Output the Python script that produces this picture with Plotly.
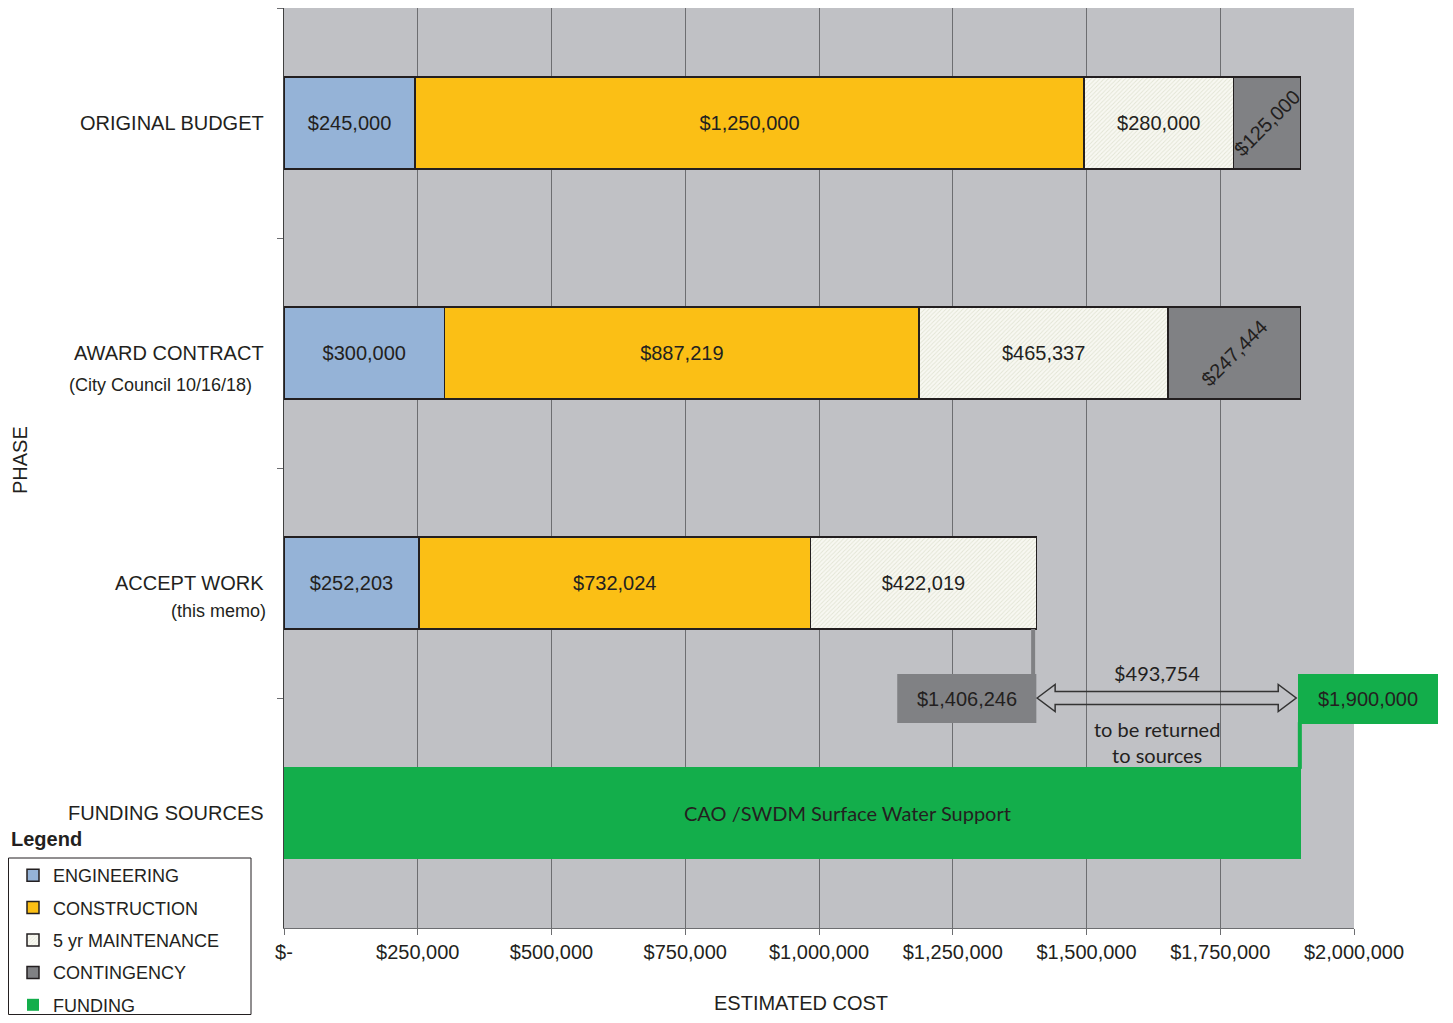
import plotly.graph_objects as go

# ---------------- data ----------------
phases = ["ORIGINAL BUDGET", "AWARD CONTRACT", "ACCEPT WORK", "FUNDING SOURCES"]
phase_notes = ["", "(City Council 10/16/18)", "(this memo)", ""]
engineering = [245000, 300000, 252203, None]
construction = [1250000, 887219, 732024, None]
maintenance = [280000, 465337, 422019, None]
contingency = [125000, 247444, 0, None]
funding = [None, None, None, 1900000]
funding_label = "CAO /SWDM Surface Water Support"
x_ticks = [0, 250000, 500000, 750000, 1000000, 1250000, 1500000, 1750000, 2000000]
x_tick_labels = ["$-", "$250,000", "$500,000", "$750,000", "$1,000,000",
                 "$1,250,000", "$1,500,000", "$1,750,000", "$2,000,000"]

# ---------------- style ----------------
ARIAL = "Liberation Sans, Arial, sans-serif"
CALIBRI = "Lato, Open Sans, sans-serif"
DARK = "#231F20"
C_ENG = "#95B3D7"
C_CON = "#FBBF15"
C_CONT = "#808184"
C_FUND = "#13AE4B"
BG = "#C0C1C5"
GRID = "#6D6E71"

XMAX = 2000000
OFF = 8                      # page body margin
PAGE_W, PAGE_H = 1453, 1023
W, H = PAGE_W - 2 * OFF, PAGE_H - 2 * OFF
# plot area in page pixels
PX_L, PX_R, PX_T, PX_B = 284, 1354, 8, 928
ML, MR = PX_L - OFF, (OFF + W) - PX_R
MT, MB = PX_T - OFF, (OFF + H) - PX_B
PW, PH = PX_R - PX_L, PX_B - PX_T


def px_x(px):
    return (px - PX_L) / PW


def px_y(py):
    return (PX_B - py) / PH


def money(v):
    return f"${v:,.0f}" if v else ""


def cat_paper(i):
    return 1 - (i + 0.5) / len(phases)


bar_w = 0.4
outline = dict(color=DARK, width=1.5)
lbl_font = dict(family=ARIAL, size=20, color=DARK)

fig = go.Figure()


def add_series(vals, name, marker, group, angle=0):
    fig.add_trace(go.Bar(
        y=phases, x=vals, orientation="h", name=name, width=bar_w,
        marker=marker, legendgroup=group,
        text=[money(v) if v is not None else "" for v in vals],
        textposition="inside", insidetextanchor="middle",
        textangle=angle, constraintext="none",
        textfont=lbl_font, hoverinfo="x+name",
    ))


add_series(engineering, "ENGINEERING", dict(color=C_ENG, line=outline), "g1")
add_series(construction, "CONSTRUCTION", dict(color=C_CON, line=outline), "g2")
add_series(maintenance, "5 yr MAINTENANCE",
           dict(color="#F8F8F2", line=outline,
                pattern=dict(shape="/", fgcolor="#CDD1B8", bgcolor="#F8F8F2",
                             size=3, solidity=0.3)), "g3")
add_series(contingency, "CONTINGENCY", dict(color=C_CONT, line=outline), "g4", angle=-45)
fig.add_trace(go.Bar(
    y=phases, x=funding, orientation="h", name="FUNDING", width=bar_w,
    marker=dict(color=C_FUND, line=dict(width=0)), legendgroup="g5",
    hoverinfo="x+name",
))

accept_total = sum(v or 0 for v in (engineering[2], construction[2], maintenance[2], contingency[2]))
fund_total = funding[3]
returned = fund_total - accept_total

shapes = []
annotations = []


def note(x, y, text, font, xref="paper", yref="paper", xanchor="center", **kw):
    annotations.append(dict(xref=xref, yref=yref, x=x, y=y, text=text,
                            showarrow=False, font=font, xanchor=xanchor,
                            yanchor="middle", **kw))


# leader line from ACCEPT WORK bar down to total box
bar_bottom = cat_paper(2) - bar_w / 2 / len(phases)
box_top, box_bot = px_y(674), px_y(723)
shapes.append(dict(type="line", xref="x", yref="paper",
                   x0=accept_total - 6000, x1=accept_total - 6000,
                   y0=bar_bottom, y1=box_top,
                   line=dict(color=C_CONT, width=4)))
# total box
shapes.append(dict(type="rect", xref="x", yref="paper",
                   x0=accept_total - 260000, x1=accept_total,
                   y0=box_bot, y1=box_top,
                   fillcolor=C_CONT, line=dict(width=0)))
note(accept_total - 130000, px_y(699), money(accept_total), lbl_font, xref="x")

# green funding callout
fund_top = cat_paper(3) + bar_w / 2 / len(phases)
g_top, g_bot = px_y(674), px_y(724)
shapes.append(dict(type="rect", xref="x", yref="paper",
                   x0=fund_total - 5000, x1=fund_total + 2500, y0=fund_top - 0.002, y1=g_bot + 0.002,
                   fillcolor=C_FUND, line=dict(width=0)))
shapes.append(dict(type="rect", xref="paper", yref="paper",
                   x0=px_x(1298), x1=px_x(1438), y0=g_bot, y1=g_top,
                   fillcolor=C_FUND, line=dict(width=0)))
note(px_x(1368), px_y(699), money(fund_total), lbl_font)

# double-headed hollow arrow
yc = px_y(698)
s = 6.5 / PH
h = 13.5 / PH
hl = 18 / PW * XMAX
L = accept_total + 1500
R = fund_total - 8000
pts = [(L, yc), (L + hl, yc + h), (L + hl, yc + s), (R - hl, yc + s), (R - hl, yc + h),
       (R, yc), (R - hl, yc - h), (R - hl, yc - s), (L + hl, yc - s), (L + hl, yc - h)]
path = "M " + " L ".join(f"{x:.1f},{y:.5f}" for x, y in pts) + " Z"
shapes.append(dict(type="path", xref="x", yref="paper", path=path,
                   fillcolor="rgba(0,0,0,0)", line=dict(color="#333333", width=1.5)))
mid = (L + R) / 2 - 10 / PW * XMAX
calib = dict(family=CALIBRI, size=20, color=DARK)
note(mid, px_y(673), money(returned), calib, xref="x")
note(mid, px_y(742), "to be returned<br>to sources", calib, xref="x")

# funding bar label
note(1053000, cat_paper(3), funding_label, calib, xref="x")

# category labels
cat_font = dict(family=ARIAL, size=20, color=DARK)
for i, p in enumerate(phases):
    note(px_x(266), cat_paper(i), p, cat_font, xanchor="right")
note_pos = {1: (254, 385), 2: (268, 611)}
for i, (rx, ry) in note_pos.items():
    note(px_x(rx), px_y(ry), phase_notes[i], dict(family=ARIAL, size=18, color=DARK),
         xanchor="right")

# axis titles
note(px_x(801), px_y(1003), "ESTIMATED COST", cat_font)
note(px_x(20), px_y(460), "PHASE", cat_font, textangle=-90)

# legend box & title
shapes.append(dict(type="rect", xref="paper", yref="paper",
                   x0=px_x(OFF + 0.5), x1=px_x(251), y0=px_y(1014.5), y1=px_y(858),
                   line=dict(color=DARK, width=1), fillcolor="white", layer="below"))
note(px_x(OFF + 1), px_y(839), "<b>Legend</b>", cat_font, xanchor="left")

fig.update_layout(
    width=W, height=H,
    margin=dict(l=ML, r=MR, t=MT, b=MB, autoexpand=False),
    paper_bgcolor="white", plot_bgcolor=BG,
    barmode="stack",
    showlegend=True,
    legend=dict(x=px_x(13), y=px_y(857), xanchor="left", yanchor="top",
                bgcolor="rgba(0,0,0,0)", borderwidth=0,
                font=dict(family=ARIAL, size=18, color=DARK),
                traceorder="grouped", tracegroupgap=6),
    xaxis=dict(range=[0, XMAX], tickvals=x_ticks, ticktext=x_tick_labels,
               showgrid=True, gridcolor=GRID, gridwidth=1, zeroline=False,
               ticks="outside", ticklen=6, tickcolor=GRID,
               showline=True, linecolor=GRID, linewidth=1,
               tickfont=dict(family=ARIAL, size=20, color=DARK)),
    yaxis=dict(type="category", categoryorder="array", categoryarray=phases,
               range=[len(phases) - 0.5, -0.5], showticklabels=False,
               ticks="outside", tickson="boundaries", ticklen=6, tickcolor=GRID,
               showgrid=False, zeroline=False,
               showline=True, linecolor="#404040", linewidth=1),
    shapes=shapes,
    annotations=annotations,
)

fig.write_html("out.html")
